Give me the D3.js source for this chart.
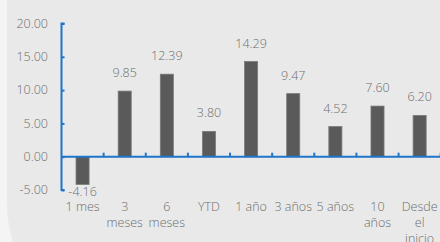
<!DOCTYPE html>
<html><head><meta charset="utf-8">
<script src="https://cdn.jsdelivr.net/npm/d3@7"></script>
<style>html,body{margin:0;padding:0;background:#f4f4f4;}svg{display:block;}</style>
</head><body>
<svg id="c" width="440" height="242"></svg>
<script>
const categories = ["1 mes","3 meses","6 meses","YTD","1 año","3 años","5 años","10 años","Desde el inicio"];
const categoryLines = [["1 mes"],["3","meses"],["6","meses"],["YTD"],["1 año"],["3 años"],["5 años"],["10","años"],["Desde","el","inicio"]];
const values = [-4.16, 9.85, 12.39, 3.80, 14.29, 9.47, 4.52, 7.60, 6.20];
const yTicks = [-5, 0, 5, 10, 15, 20];

const svg = d3.select("#c");
const font = "'Open Sans', sans-serif";
const txt = "#6e6e6e";
const blue = "#1f74cc";

svg.append("rect").attr("width",440).attr("height",242).attr("fill","#f4f4f4");
svg.append("path").attr("d","M7,0 H440 V242 H13 C9,230 7,215 7,200 Z").attr("fill","#e9e9e9");

const x = d3.scaleBand().domain(categories).range([61.5, 440.7]).padding(0);
const y = d3.scaleLinear().domain([-5, 20]).range([190, 23.5]);
const bw = x.bandwidth() * 0.31;

// bars
svg.selectAll("rect.bar").data(values).enter().append("rect")
  .attr("class","bar")
  .attr("x",(d,i)=>x(categories[i]) + x.bandwidth()/2 - bw/2)
  .attr("y",d=>y(Math.max(0,d)))
  .attr("width",bw)
  .attr("height",d=>Math.abs(y(d)-y(0)))
  .attr("fill","#5a5a5a").attr("stroke","#7a7a7a").attr("stroke-width",0.8);

function styleText(s){
  return s.attr("font-family",font).attr("font-size",12.5).attr("font-weight",300).attr("fill",txt);
}

// value labels
styleText(svg.selectAll("text.val").data(values).enter().append("text")
  .attr("x",(d,i)=>x(categories[i]) + x.bandwidth()/2)
  .attr("y",d=> d>=0 ? y(d)-14 : y(d)+12)
  .attr("text-anchor","middle"))
  .text(d=>d.toFixed(2));

// y axis
const ya = svg.append("g").attr("transform","translate(61.5,0)")
  .call(d3.axisRight(y).tickValues(yTicks).tickSize(3).tickFormat(""));
ya.selectAll("path,line").attr("stroke",blue).attr("stroke-width",2);
ya.select("path").attr("d",`M3,${y(20)}H0V${y(-5)}H3`);
styleText(svg.selectAll("text.yl").data(yTicks).enter().append("text")
  .attr("x",48).attr("y",d=>y(d)).attr("dy","0.35em")
  .attr("text-anchor","end"))
  .text(d=>d.toFixed(2));

// x axis
const xa = svg.append("g").attr("transform",`translate(0,${y(0)})`)
  .call(d3.axisTop(x).tickSize(0).tickFormat(""));
xa.select("path").attr("stroke",blue).attr("stroke-width",2).attr("d","M61.5,0H440.7");
xa.selectAll(".tick").remove();
const bounds = categories.map(c=>x(c)+x.step());
xa.selectAll("line.b").data(bounds).enter().append("line")
  .attr("x1",d=>d).attr("x2",d=>d).attr("y1",0).attr("y2",-4)
  .attr("stroke",blue).attr("stroke-width",2);

// category labels
categories.forEach((c,i)=>{
  const t = styleText(svg.append("text").attr("text-anchor","middle"));
  categoryLines[i].forEach((l,j)=>{
    t.append("tspan").attr("x",x(c)+x.bandwidth()/2).attr("y",211+j*16).text(l);
  });
});
</script>
</body></html>
